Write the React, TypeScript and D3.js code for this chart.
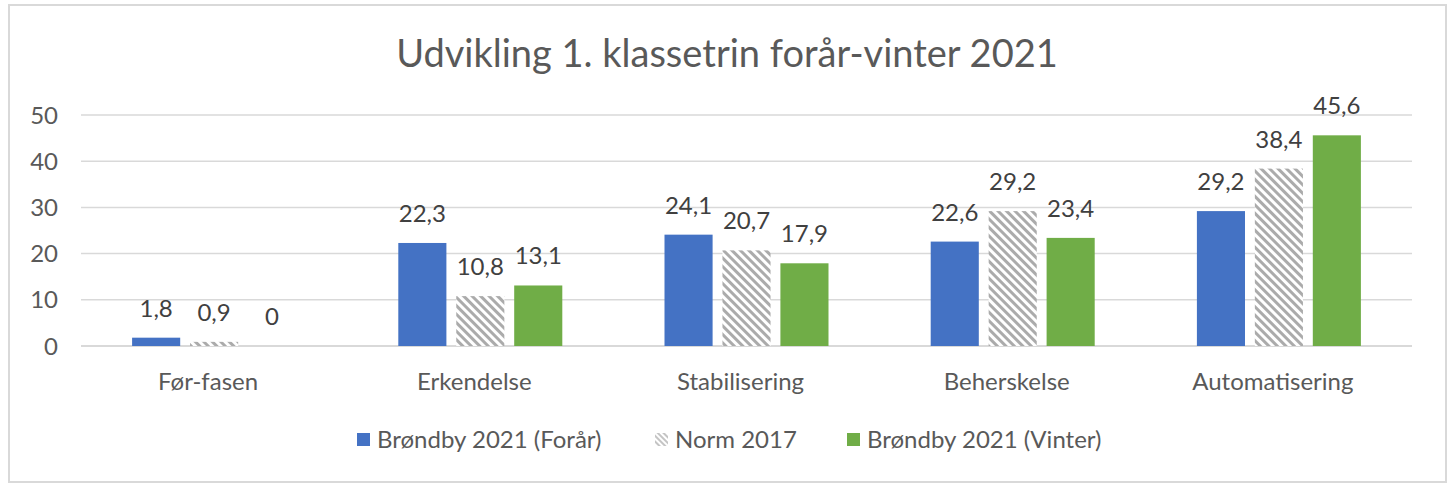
import React from "react";
import * as d3 from "d3";

const categories = ["Før-fasen", "Erkendelse", "Stabilisering", "Beherskelse", "Automatisering"];
const seriesNames = ["Brøndby 2021 (Forår)", "Norm 2017", "Brøndby 2021 (Vinter)"];
const forar = [1.8, 22.3, 24.1, 22.6, 29.2];
const norm = [0.9, 10.8, 20.7, 29.2, 38.4];
const vinter = [0, 13.1, 17.9, 23.4, 45.6];
const yTicks = [0, 10, 20, 30, 40, 50];
const title = "Udvikling 1. klassetrin forår-vinter 2021";

const W = 1449;
const H = 483;
const FONT = "Lato, 'Open Sans', sans-serif";
const TEXT = "#595959";
const LABEL = "#404040";
const fills = ["#4472C4", "url(#hatch)", "#70AD47"];

export default function App() {
  const seriesData = [forar, norm, vinter];
  const x0 = d3.scaleBand<string>().domain(categories).range([81, 1412]).paddingInner(0).paddingOuter(0);
  const x1 = d3.scaleBand<number>().domain([0, 1, 2]).range([0, 164]).paddingInner(0.17);
  const y = d3.scaleLinear().domain([0, 50]).range([346, 115]);
  const fmt = (v: number) => String(v).replace(".", ",");
  const groupW = 164;

  const legendItems = [
    { x: 357, tx: 377 },
    { x: 655, tx: 675 },
    { x: 847, tx: 867 },
  ];

  return (
    <svg width={W} height={H} style={{ position: "absolute", left: 0, top: 0, display: "block" }}>
      <defs>
        <pattern id="hatch" patternUnits="userSpaceOnUse" width="6" height="6" patternTransform="rotate(45)">
          <rect width="6" height="6" fill="#ffffff" />
          <rect width="6" height="3" fill="#ababab" />
        </pattern>
        <pattern id="hatchSmall" patternUnits="userSpaceOnUse" width="4" height="4" patternTransform="rotate(45)">
          <rect width="4" height="4" fill="#ffffff" />
          <rect width="4" height="2" fill="#c4c4c4" />
        </pattern>
      </defs>
      <rect x={0} y={0} width={W} height={H} fill="#ffffff" />
      <rect x={9} y={5} width={1437} height={477} fill="#ffffff" stroke="#d9d9d9" strokeWidth={2} />
      <text x={727} y={67} textAnchor="middle" fontFamily={FONT} fontSize={38} fill={TEXT}>
        {title}
      </text>
      {yTicks.map((t) => (
        <g key={t}>
          <line x1={81} x2={1412} y1={y(t)} y2={y(t)} stroke="#d9d9d9" strokeWidth={t === 0 ? 2 : 1.5} />
          <text x={58} y={y(t)} dy="0.36em" textAnchor="end" fontFamily={FONT} fontSize={24} fill={TEXT}>
            {t}
          </text>
        </g>
      ))}
      {categories.map((c, i) => {
        const gx = (x0(c) as number) + (x0.bandwidth() - groupW) / 2;
        return (
          <g key={c}>
            {seriesData.map((s, j) => {
              const v = s[i];
              const bx = gx + (x1(j) as number);
              const bw = x1.bandwidth();
              return (
                <g key={j}>
                  <rect x={bx} y={y(v)} width={bw} height={y(0) - y(v)} fill={fills[j]} />
                  <text
                    x={bx + bw / 2}
                    y={y(v) - 21}
                    textAnchor="middle"
                    fontFamily={FONT}
                    fontSize={24}
                    fill={LABEL}
                  >
                    {fmt(v)}
                  </text>
                </g>
              );
            })}
            <text
              x={(x0(c) as number) + x0.bandwidth() / 2 - 6}
              y={390}
              textAnchor="middle"
              fontFamily={FONT}
              fontSize={24}
              fill={TEXT}
            >
              {c}
            </text>
          </g>
        );
      })}
      {seriesNames.map((n, j) => (
        <g key={n}>
          <rect x={legendItems[j].x} y={433} width={13} height={13} fill={j === 1 ? "url(#hatchSmall)" : fills[j]} />
          <text x={legendItems[j].tx} y={448} fontFamily={FONT} fontSize={24} fill={TEXT}>
            {n}
          </text>
        </g>
      ))}
    </svg>
  );
}
